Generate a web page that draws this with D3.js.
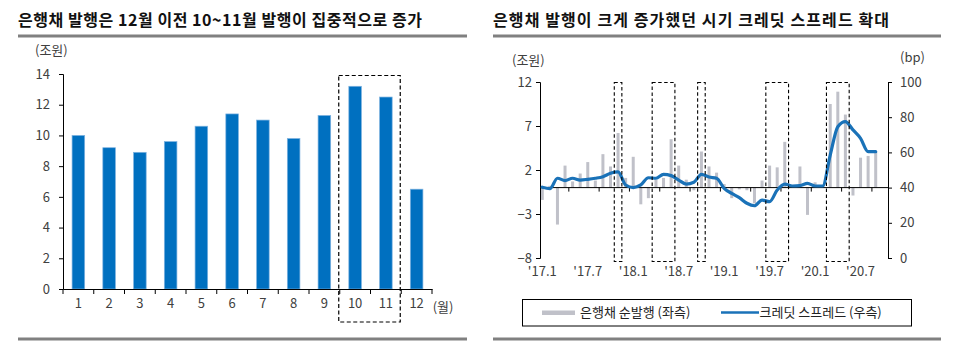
<!DOCTYPE html>
<html>
<head>
<meta charset="utf-8">
<script src="https://cdn.jsdelivr.net/npm/d3@7"></script>
<style>
  html, body { margin: 0; padding: 0; background: #fff; }
  svg { display: block; }
  text { font-family: "Noto Sans CJK KR", "Noto Sans", sans-serif; }
</style>
</head>
<body>
<svg id="chart" width="953" height="344"></svg>
<script>
// ---------- DATA ----------
const leftTitle = "은행채 발행은 12월 이전 10~11월 발행이 집중적으로 증가";
const rightTitle = "은행채 발행이 크게 증가했던 시기 크레딧 스프레드 확대";

const monthCats = ["1","2","3","4","5","6","7","8","9","10","11","12"];
const monthlyIssuance = [10.0, 9.2, 8.9, 9.6, 10.6, 11.4, 11.0, 9.8, 11.3, 13.2, 12.5, 6.5];
const leftTicks = [0, 2, 4, 6, 8, 10, 12, 14];
const leftHighlight = ["10", "11"];

const months = ["17.1","17.2","17.3","17.4","17.5","17.6","17.7","17.8","17.9","17.10","17.11","17.12",
                "18.1","18.2","18.3","18.4","18.5","18.6","18.7","18.8","18.9","18.10","18.11","18.12",
                "19.1","19.2","19.3","19.4","19.5","19.6","19.7","19.8","19.9","19.10","19.11","19.12",
                "20.1","20.2","20.3","20.4","20.5","20.6","20.7","20.8","20.9"];
const netIssuance = [-1.4, 0.2, -4.2, 2.5, 0.7, 1.6, 2.9, 0.8, 3.8, 2.4, 6.2, 1.1,
                     3.5, -1.9, -1.2, 0.9, 1.1, 5.5, 2.5, 0.9, -0.3, 4.1, 2.4, 1.7,
                     0.4, -1.2, -0.2, -0.3, -1.8, 0.8, 2.5, 2.3, 5.2, 0.3, 2.4, -3.1,
                     0.6, 0.2, 9.5, 10.9, 8.3, -0.9, 3.4, 3.6, 4.1];
const creditSpread = [40.2, 39.4, 45.3, 44.0, 45.3, 44.3, 44.7, 45.3, 46.2, 48.1, 48.9, 41.5,
                      40.0, 41.5, 45.6, 45.3, 47.5, 46.8, 44.3, 42.0, 43.0, 47.5, 46.0, 45.3,
                      39.6, 36.7, 34.3, 31.1, 29.7, 32.9, 32.0, 38.6, 42.0, 40.9, 41.1, 42.4,
                      40.9, 40.9, 58.5, 74.6, 77.5, 72.8, 68.0, 60.4, 60.4];
const rightLeftTicks = [12, 7, 2, -3, -8];
const rightRightTicks = [0, 20, 40, 60, 80, 100];
const xLabelMonths = ["17.1","17.7","18.1","18.7","19.1","19.7","20.1","20.7"];
const xTickAfter = ["17.4","17.8","17.12","18.4","18.8","18.12","19.4","19.8","19.12","20.4","20.8"];
const highlightRanges = [["17.11","17.11"],["18.4","18.6"],["18.10","18.10"],["19.7","19.9"],["20.3","20.5"]];
const legendLabels = ["은행채 순발행 (좌측)", "크레딧 스프레드 (우측)"];

// ---------- STYLE ----------
const svg = d3.select("#chart");
const tickColor = "#404040";
const ruleColor = "#808080";

// ---------- HEADERS ----------
function header(x0, x1, title, titleW) {
  svg.append("text").attr("x", x0).attr("y", 26)
    .attr("font-size", 16).attr("font-weight", "bold").attr("fill", "#111")
    .attr("textLength", titleW).attr("lengthAdjust", "spacing")
    .text(title);
  svg.append("line").attr("x1", x0).attr("x2", x1).attr("y1", 36).attr("y2", 36)
    .attr("stroke", ruleColor).attr("stroke-width", 3);
  svg.append("line").attr("x1", x0).attr("x2", x1).attr("y1", 339).attr("y2", 339)
    .attr("stroke", ruleColor).attr("stroke-width", 3);
}
header(18, 467, leftTitle, 404);
header(493, 941, rightTitle, 396);

// ---------- LEFT CHART ----------
const L = { left: 63, right: 432, top: 74, bottom: 289 };
const xL = d3.scaleBand().domain(monthCats).range([L.left, L.right]).paddingInner(0).paddingOuter(0);
const yL = d3.scaleLinear().domain([0, 14]).range([L.bottom, L.top]);
const barW = 12.6;

const gL = svg.append("g");
gL.selectAll("rect.bar").data(monthCats).join("rect")
  .attr("class", "bar")
  .attr("x", d => xL(d) + (xL.bandwidth() - barW) / 2)
  .attr("width", barW)
  .attr("y", (d, i) => yL(monthlyIssuance[i]))
  .attr("height", (d, i) => yL(0) - yL(monthlyIssuance[i]))
  .attr("fill", "#0070c0")
  .attr("stroke", "#7fb3e0").attr("stroke-width", 0.7);

// y axis
const yAxisL = gL.append("g").attr("transform", `translate(${L.left},0)`)
  .call(d3.axisLeft(yL).tickValues(leftTicks).tickSize(4).tickPadding(9));
yAxisL.selectAll("path, line").attr("stroke", "#000");
yAxisL.selectAll("text").attr("font-size", 13).attr("fill", tickColor)
  .attr("font-family", "'Noto Sans CJK KR', sans-serif");

// x axis: line, boundary ticks, labels
const xAxisL = gL.append("g").attr("transform", `translate(0,${L.bottom})`)
  .call(d3.axisBottom(xL).tickSize(0).tickPadding(10));
xAxisL.select("path").attr("stroke", "#000");
xAxisL.selectAll("text").attr("font-size", 13).attr("fill", tickColor)
  .attr("font-family", "'Noto Sans CJK KR', sans-serif");
const bounds = monthCats.map(d => xL(d)).concat([xL.range()[1]]);
gL.selectAll("line.bt").data(bounds).join("line").attr("class", "bt")
  .attr("x1", d => d).attr("x2", d => d)
  .attr("y1", L.bottom).attr("y2", L.bottom + 5)
  .attr("stroke", "#000");
gL.append("text").attr("x", xL("12") + xL.bandwidth() / 2 + 16).attr("y", L.bottom + 23)
  .attr("font-size", 13).attr("fill", tickColor).text("(월)");
gL.append("text").attr("x", 35).attr("y", 55)
  .attr("font-size", 13).attr("fill", tickColor).text("(조원)");

// highlight box
gL.append("rect")
  .attr("x", xL(leftHighlight[0]) - 1)
  .attr("y", 75.5)
  .attr("width", xL(leftHighlight[1]) + xL.bandwidth() - xL(leftHighlight[0]))
  .attr("height", 322 - 75.5)
  .attr("fill", "none").attr("stroke", "#000").attr("stroke-width", 1.2)
  .attr("stroke-dasharray", "4,2.5");

// ---------- RIGHT CHART ----------
const R = { left: 540, right: 888, top: 82, bottom: 258 };
const xR = d3.scalePoint().domain(months).range([542.3, 875.7]);
const step = xR.step();
const yR1 = d3.scaleLinear().domain([-8, 12]).range([R.bottom, R.top]);
const yR2 = d3.scaleLinear().domain([0, 100]).range([R.bottom, R.top]);
const gR = svg.append("g");

// bars
const bw = 3;
gR.selectAll("rect.nb").data(months).join("rect").attr("class", "nb")
  .attr("x", d => xR(d) - bw / 2)
  .attr("width", bw)
  .attr("y", (d, i) => yR1(Math.max(0, netIssuance[i])))
  .attr("height", (d, i) => Math.abs(yR1(netIssuance[i]) - yR1(0)))
  .attr("fill", "#c0c1c9");

// zero line
gR.append("line").attr("x1", R.left).attr("x2", R.right)
  .attr("y1", yR1(0)).attr("y2", yR1(0)).attr("stroke", "#000").attr("stroke-width", 1);
gR.selectAll("line.xt").data(xTickAfter).join("line").attr("class", "xt")
  .attr("x1", d => xR(d) + step / 2).attr("x2", d => xR(d) + step / 2)
  .attr("y1", yR1(0)).attr("y2", yR1(0) + 4).attr("stroke", "#000");

// axes
const axL = gR.append("g").attr("transform", `translate(${R.left},0)`)
  .call(d3.axisLeft(yR1).tickValues(rightLeftTicks).tickSize(4).tickPadding(4));
axL.selectAll("path, line").attr("stroke", "#000");
axL.selectAll("text").attr("font-size", 13).attr("fill", tickColor)
  .attr("font-family", "'Noto Sans CJK KR', sans-serif");
const axR = gR.append("g").attr("transform", `translate(${R.right},0)`)
  .call(d3.axisRight(yR2).tickValues(rightRightTicks).tickSize(4).tickPadding(8));
axR.selectAll("path, line").attr("stroke", "#000");
axR.selectAll("text").attr("font-size", 13).attr("fill", tickColor)
  .attr("font-family", "'Noto Sans CJK KR', sans-serif");

// x labels
gR.selectAll("text.xl").data(xLabelMonths).join("text").attr("class", "xl")
  .attr("x", d => xR(d)).attr("y", 276)
  .attr("text-anchor", "middle").attr("font-size", 13).attr("fill", tickColor)
  .text(d => "'" + d);

// unit labels
gR.append("text").attr("x", 512).attr("y", 65).attr("font-size", 13).attr("fill", tickColor).text("(조원)");
gR.append("text").attr("x", 900).attr("y", 62).attr("font-size", 13).attr("fill", tickColor).text("(bp)");

// spread line
const line = d3.line().x(d => xR(d)).y((d, i) => yR2(creditSpread[i])).curve(d3.curveMonotoneX);
gR.append("path").datum(months).attr("d", line)
  .attr("fill", "none").attr("stroke", "#1a72b8").attr("stroke-width", 3.2)
  .attr("stroke-linejoin", "round").attr("stroke-linecap", "round");

// highlight boxes
gR.selectAll("rect.hb").data(highlightRanges).join("rect").attr("class", "hb")
  .attr("x", d => xR(d[0]) - step / 2)
  .attr("width", d => xR(d[1]) - xR(d[0]) + step)
  .attr("y", yR1(12) + 0.5)
  .attr("height", yR1(-8) + 3 - yR1(12))
  .attr("fill", "none").attr("stroke", "#000").attr("stroke-width", 1.1)
  .attr("stroke-dasharray", "3.5,2.5");

// legend
const lg = svg.append("g");
lg.append("rect").attr("x", 522.5).attr("y", 299.5).attr("width", 389).attr("height", 26.5)
  .attr("fill", "#fff").attr("stroke", "#000").attr("stroke-width", 1);
lg.append("rect").attr("x", 542).attr("y", 310.5).attr("width", 33).attr("height", 4.5).attr("fill", "#c0c1c9");
lg.append("text").attr("x", 580).attr("y", 317).attr("font-size", 13).attr("fill", "#222").text(legendLabels[0]);
lg.append("line").attr("x1", 721).attr("x2", 759).attr("y1", 312.5).attr("y2", 312.5)
  .attr("stroke", "#1a72b8").attr("stroke-width", 2.5);
lg.append("text").attr("x", 759.5).attr("y", 317).attr("font-size", 13).attr("fill", "#222").text(legendLabels[1]);
</script>
</body>
</html>
